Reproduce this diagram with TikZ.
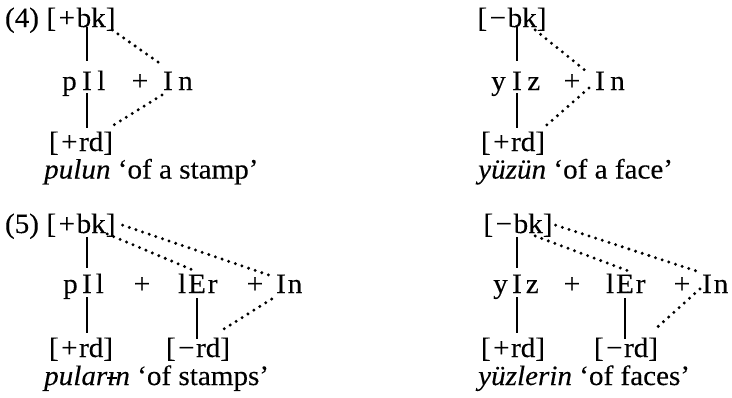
\documentclass[tikz,border=0pt]{standalone}
\usepackage{fontspec}
\setmainfont{Liberation Serif}[FakeStretch=1.04,FakeBold=0.2]
\usetikzlibrary{calc}
\newcommand{\bpl}{\kern2.5pt+\kern1.5pt}
\newcommand{\bmn}{\kern2.5pt−\kern1.5pt}
\newcommand{\bari}{\ooalign{ı\cr\hidewidth\kern0.03em\rule[0.2em]{0.34em}{0.075em}\hidewidth\cr}}
\begin{document}
\begin{tikzpicture}[x=1pt,y=-1pt,
  every node/.style={inner sep=0pt,font=\fontsize{28}{32}\selectfont},
  t/.style={anchor=base},
  tw/.style={anchor=base west},
  te/.style={anchor=base east},
  vline/.style={line width=1.7pt},
  dotline/.style={line width=3.3pt,line cap=round,dash pattern=on 0pt off 7pt}]
\useasboundingbox (0,0) rectangle (732,397);

% ---------- (4) left ----------
\node[t] (n4) at (22,27) {(4)};
\node[t] (bkA) at (81,27) {[\bpl bk]};
\node[t] (I1) at (87,90) {I};
\node[te] (p1) at ([xshift=-5pt]I1.base west) {p};
\node[tw] (l1) at ([xshift=5pt]I1.base east) {l};
\node[t] (pl1) at (140,90) {+};
\node[t] (I2) at (168,90) {I};
\node[tw] (n2) at ([xshift=5pt]I2.base east) {n};
\node[t] (rdA) at (81,151) {[\bpl rd]};
\node[tw] (capA) at (44,178.5) {\textit{pulun} ‘of a stamp’};
\draw[vline] ($(bkA.south -| I1)+(0pt,3.5pt)$) -- ([yshift=10.5pt]I1.north);
\draw[vline] ([yshift=-3pt]I1.base) -- ($(rdA.north -| I1)+(0pt,3pt)$);
\draw[dotline] ([shift={(-3.5pt,1pt)}]bkA.south east) -- ([shift={(0pt,6pt)}]I2.north west);
\draw[dotline] ([shift={(-1pt,-5pt)}]I2.base west) -- ([shift={(0pt,6pt)}]rdA.north east);

% ---------- (4) right ----------
\node[t] (bkB) at (512,27) {[\bmn bk]};
\node[t] (I3) at (517,90) {I};
\node[te] (y3) at ([xshift=-6pt]I3.base west) {y};
\node[tw] (z3) at ([xshift=5pt]I3.base east) {z};
\node[t] (pl3) at (572,90) {+};
\node[t] (I4) at (600,90) {I};
\node[tw] (n4b) at ([xshift=5pt]I4.base east) {n};
\node[t] (rdB) at (513,151) {[\bpl rd]};
\node[tw] (capB) at (478,178.5) {\textit{yüzün} ‘of a face’};
\draw[vline] ($(bkB.south -| I3)+(0pt,3.5pt)$) -- ([yshift=10.5pt]I3.north);
\draw[vline] ([yshift=-3pt]I3.base) -- ($(rdB.north -| I3)+(0pt,3pt)$);
\draw[dotline] ([shift={(-11.5pt,1pt)}]bkB.south east) -- ([shift={(-6pt,-2pt)}]I4.north west);
\draw[dotline] ([shift={(-6pt,2pt)}]I4.base west) -- ([shift={(0pt,5pt)}]rdB.north east);

% ---------- (5) left ----------
\node[t] (n5) at (22,233) {(5)};
\node[t] (bkC) at (81,233) {[\bpl bk]};
\node[t] (I5) at (87,293) {I};
\node[te] (p5) at ([xshift=-4pt]I5.base west) {p};
\node[tw] (l5) at ([xshift=3.5pt]I5.base east) {l};
\node[t] (pl5) at (142,293) {+};
\node[t] (E5) at (197,293) {E};
\node[te] (l5b) at ([xshift=-1.5pt]E5.base west) {l};
\node[tw] (r5) at ([xshift=1.5pt]E5.base east) {r};
\node[t] (pl5b) at (255,293) {+};
\node[t] (I6) at (281,293) {I};
\node[tw] (n6) at ([xshift=1.5pt]I6.base east) {n};
\node[t] (rdC) at (81,357) {[\bpl rd]};
\node[t] (rdD) at (198,357) {[\bmn rd]};
\node[tw] (capC) at (44,385) {\textit{pular\bari n} ‘of stamps’};
\draw[vline] (bkC.south -| I5) -- ([yshift=6.5pt]I5.north);
\draw[vline] ([yshift=-4pt]I5.base) -- ($(rdC.north -| I5)+(0pt,4pt)$);
\draw[vline] ([yshift=-5pt]E5.base) -- ($(rdD.north -| E5)+(0pt,-2pt)$);
\draw[dotline] ([shift={(7pt,0pt)}]bkC.east) -- ([shift={(-6pt,-1pt)}]I6.north west);
\draw[dotline] ([shift={(-8.5pt,3pt)}]bkC.south east) -- ([shift={(-3pt,4pt)}]E5.north);
\draw[dotline] ([shift={(-6pt,8.6pt)}]rdD.north east) -- ([shift={(-1pt,-4pt)}]I6.base west);

% ---------- (5) right ----------
\node[t] (bkD) at (518,233) {[\bmn bk]};
\node[t] (I7) at (517,293) {I};
\node[te] (y7) at ([xshift=-4pt]I7.base west) {y};
\node[tw] (z7) at ([xshift=3.5pt]I7.base east) {z};
\node[t] (pl7) at (572,293) {+};
\node[t] (E8) at (625,293) {E};
\node[te] (l8) at ([xshift=-1.5pt]E8.base west) {l};
\node[tw] (r8) at ([xshift=1.5pt]E8.base east) {r};
\node[t] (pl8) at (682,293) {+};
\node[t] (I9) at (707,293) {I};
\node[tw] (n9) at ([xshift=1.5pt]I9.base east) {n};
\node[t] (rdE) at (513,357) {[\bpl rd]};
\node[t] (rdF) at (626,357) {[\bmn rd]};
\node[tw] (capD) at (478,385) {\textit{yüzlerin} ‘of faces’};
\draw[vline] (bkD.south -| I7) -- ([yshift=6.5pt]I7.north);
\draw[vline] ([yshift=-4pt]I7.base) -- ($(rdE.north -| I7)+(0pt,4pt)$);
\draw[vline] ([yshift=-5pt]E8.base) -- ($(rdF.north -| E8)+(0pt,-2pt)$);
\draw[dotline] ([shift={(3pt,0pt)}]bkD.east) -- ([shift={(-1pt,2pt)}]I9.north west);
\draw[dotline] ([shift={(-17.5pt,1pt)}]bkD.south east) -- ([shift={(2pt,4pt)}]E8.north);
\draw[dotline] ([shift={(0pt,11pt)}]rdF.north east) -- ([shift={(-1pt,5pt)}]I9.base west);
\end{tikzpicture}
\end{document}
